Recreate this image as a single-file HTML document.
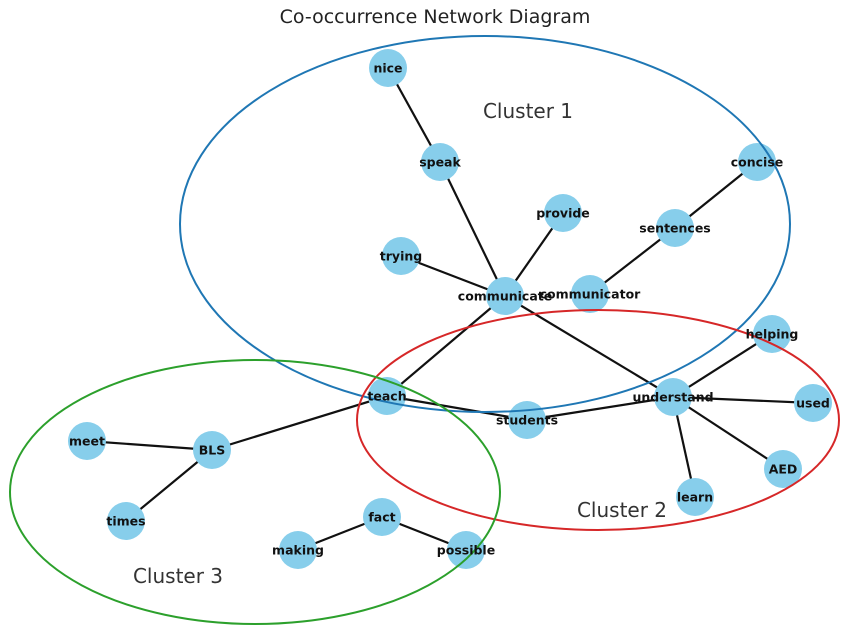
<!DOCTYPE html>
<html><head><meta charset="utf-8"><style>body{margin:0;background:#fff}svg{display:block}</style></head><body>
<svg width="850" height="635" viewBox="0 0 850 635" xmlns="http://www.w3.org/2000/svg">
<rect width="850" height="635" fill="#fff"/>
<text x="435" y="23" font-family="DejaVu Sans, Liberation Sans, sans-serif" font-size="19" fill="#222" text-anchor="middle">Co-occurrence Network Diagram</text>
<g stroke="#111" stroke-width="2.2">
<line x1="388" y1="68" x2="440" y2="162"/>
<line x1="440" y1="162" x2="505" y2="296"/>
<line x1="563" y1="213" x2="505" y2="296"/>
<line x1="401" y1="256" x2="505" y2="296"/>
<line x1="505" y1="296" x2="673" y2="397"/>
<line x1="505" y1="296" x2="387" y2="396"/>
<line x1="590" y1="294" x2="675" y2="228"/>
<line x1="675" y1="228" x2="757" y2="162"/>
<line x1="772" y1="334" x2="673" y2="397"/>
<line x1="673" y1="397" x2="813" y2="403"/>
<line x1="673" y1="397" x2="783" y2="469"/>
<line x1="673" y1="397" x2="695" y2="497"/>
<line x1="673" y1="397" x2="527" y2="420"/>
<line x1="527" y1="420" x2="387" y2="396"/>
<line x1="387" y1="396" x2="212" y2="450"/>
<line x1="212" y1="450" x2="87" y2="441"/>
<line x1="212" y1="450" x2="126" y2="521"/>
<line x1="382" y1="517" x2="298" y2="550"/>
<line x1="382" y1="517" x2="466" y2="550"/>
</g>
<g fill="#87ceeb">
<circle cx="388" cy="68" r="19"/><circle cx="440" cy="162" r="19"/><circle cx="563" cy="213" r="19"/>
<circle cx="401" cy="256" r="19"/><circle cx="505" cy="296" r="19"/><circle cx="590" cy="294" r="19"/>
<circle cx="675" cy="228" r="19"/><circle cx="757" cy="162" r="19"/><circle cx="772" cy="334" r="19"/>
<circle cx="673" cy="397" r="19"/><circle cx="813" cy="403" r="19"/><circle cx="783" cy="469" r="19"/>
<circle cx="695" cy="497" r="19"/><circle cx="527" cy="420" r="19"/><circle cx="387" cy="396" r="19"/>
<circle cx="212" cy="450" r="19"/><circle cx="87" cy="441" r="19"/><circle cx="126" cy="521" r="19"/>
<circle cx="382" cy="517" r="19"/><circle cx="298" cy="550" r="19"/><circle cx="466" cy="550" r="19"/>
</g>
<g fill="none" stroke-width="2">
<ellipse cx="485" cy="224" rx="305" ry="188" stroke="#1f77b4"/>
<ellipse cx="598" cy="420" rx="241" ry="110" stroke="#d62728"/>
<ellipse cx="255" cy="492" rx="245" ry="132" stroke="#2ca02c"/>
</g>
<g font-family="DejaVu Sans, Liberation Sans, sans-serif" font-size="12.5" font-weight="bold" fill="#111" text-anchor="middle" dominant-baseline="central">
<text x="388" y="68">nice</text><text x="440" y="162">speak</text><text x="563" y="213">provide</text>
<text x="401" y="256">trying</text><text x="505" y="296">communicate</text><text x="590" y="294">communicator</text>
<text x="675" y="228">sentences</text><text x="757" y="162">concise</text><text x="772" y="334">helping</text>
<text x="673" y="397">understand</text><text x="813" y="403">used</text><text x="783" y="469">AED</text>
<text x="695" y="497">learn</text><text x="527" y="420">students</text><text x="387" y="396">teach</text>
<text x="212" y="450">BLS</text><text x="87" y="441">meet</text><text x="126" y="521">times</text>
<text x="382" y="517">fact</text><text x="298" y="550">making</text><text x="466" y="550">possible</text>
</g>
<g font-family="DejaVu Sans, Liberation Sans, sans-serif" font-size="20" fill="#333" text-anchor="middle">
<text x="528" y="118">Cluster 1</text>
<text x="622" y="517">Cluster 2</text>
<text x="178" y="583">Cluster 3</text>
</g>
</svg>
</body></html>
